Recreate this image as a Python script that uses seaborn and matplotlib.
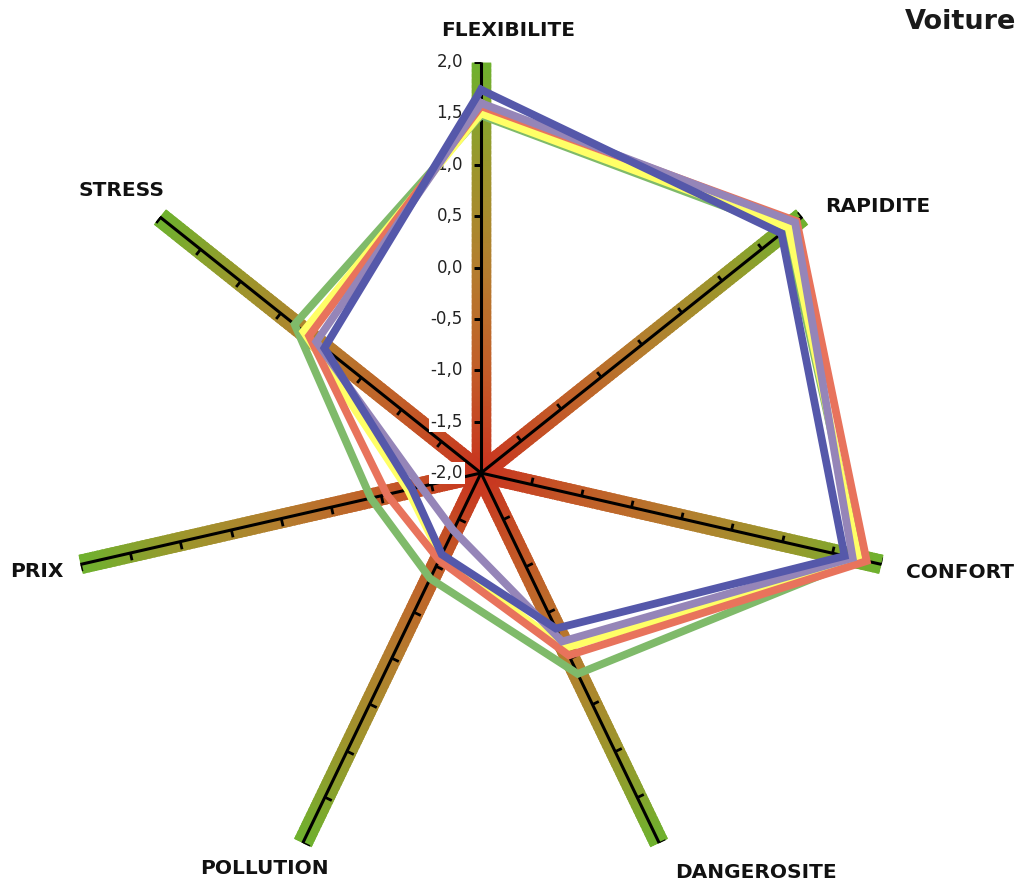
import numpy as np
import pandas as pd
import seaborn as sns
import matplotlib.pyplot as plt
from matplotlib.collections import LineCollection
from matplotlib.colors import LinearSegmentedColormap
from matplotlib.markers import MarkerStyle
from matplotlib.path import Path
from matplotlib.transforms import Affine2D

categories = ['FLEXIBILITE', 'RAPIDITE', 'CONFORT', 'DANGEROSITE', 'POLLUTION', 'PRIX', 'STRESS']
serie_vert = [1.48, 1.80, 1.78, 0.17, -0.86, -0.90, 0.32]
serie_jaune = [1.50, 1.83, 1.77, -0.11, -1.10, -1.27, 0.21]
serie_saumon = [1.57, 1.93, 1.85, -0.03, -1.06, -1.06, 0.14]
serie_violet = [1.60, 1.91, 1.71, -0.18, -1.38, -1.40, 0.05]
serie_bleu = [1.73, 1.74, 1.63, -0.32, -1.12, -1.31, -0.05]
tick_values = [-2.0, -1.5, -1.0, -0.5, 0.0, 0.5, 1.0, 1.5, 2.0]
tick_labels = ['-2,0', '-1,5', '-1,0', '-0,5', '0,0', '0,5', '1,0', '1,5', '2,0']

series = {
    'Série 1': serie_vert,
    'Série 2': serie_jaune,
    'Série 3': serie_saumon,
    'Série 4': serie_violet,
    'Série 5': serie_bleu,
}
palette = ['#7fba6a', '#ffff66', '#e8735c', '#9585b8', '#5558aa']

n = len(categories)
angles = np.arange(n) * 2 * np.pi / n

rows = []
for name, vals in series.items():
    for i in list(range(n)) + [0]:
        rows.append({'serie': name, 'theta': angles[i], 'valeur': vals[i]})
df = pd.DataFrame(rows)

W, H = 1024, 888
fig = plt.figure(figsize=(W / 100, H / 100), dpi=100)
cx, cy, R = 481, 473, 411
ax = fig.add_axes([(cx - R) / W, 1 - (cy + R) / H, 2 * R / W, 2 * R / H], projection='polar')
ax.set_theta_offset(np.pi / 2)
ax.set_theta_direction(-1)
ax.set_ylim(-2, 2)
ax.grid(False)
ax.spines['polar'].set_visible(False)
ax.set_xticks([])
ax.set_yticks([])

# spokes with red -> green gradient (overlapping pieces so no seams)
cmap = LinearSegmentedColormap.from_list(
    'spoke', ['#c9341f', '#c25d28', '#b47d2e', '#9c962c', '#6fb12e'])
steps = 80
r_edges = np.linspace(-2, 2, steps + 1)
for a in angles:
    segs = [[(a, r_edges[j]), (a, min(r_edges[j + 1] + 0.04, 2))] for j in range(steps)]
    lc = LineCollection(segs, colors=cmap(np.linspace(0, 1, steps)), linewidths=14,
                        capstyle='butt', zorder=1)
    ax.add_collection(lc)
for a in angles:
    ax.plot([a, a], [-2, 2], color='black', lw=2.2, zorder=2, solid_capstyle='butt')
    phi = 90 - np.degrees(a)
    mk = MarkerStyle(Path([(0, 0), (1, 0)]), fillstyle='none',
                     transform=Affine2D().rotate_deg(phi + 90))
    ax.plot([a] * 8, tick_values[1:], ls='none', marker=mk, markersize=10,
            markeredgecolor='black', markeredgewidth=2, zorder=2)

for v, lab in zip(tick_values, tick_labels):
    ax.annotate(lab, xy=(0, v), xytext=(-13, 0), textcoords='offset points',
                ha='right', va='center', fontsize=12, color='#222222', zorder=3,
                bbox=dict(boxstyle='square,pad=0.1', fc='white', ec='none'))

sns.lineplot(data=df, x='theta', y='valeur', hue='serie', palette=palette, sort=False,
             estimator=None, units='serie', lw=5.6, legend=False, ax=ax, zorder=4)
for line in ax.lines[-len(series):]:
    line.set_solid_joinstyle('miter')
ax.set_xlabel('')
ax.set_ylabel('')

label_pos = {
    'FLEXIBILITE': (508, 30, 'center'),
    'RAPIDITE': (825, 207, 'left'),
    'CONFORT': (906, 572, 'left'),
    'DANGEROSITE': (675, 872, 'left'),
    'POLLUTION': (200, 868, 'left'),
    'PRIX': (10, 571, 'left'),
    'STRESS': (79, 190, 'left'),
}
for cat in categories:
    x, y, ha = label_pos[cat]
    fig.text(x / W, 1 - y / H, cat, ha=ha, va='center', fontsize=14.5,
             fontweight='bold', color='#111111')
fig.text(905 / W, 1 - 22 / H, 'Voiture', ha='left', va='center', fontsize=19.5,
         fontweight='heavy', color='#1a1a1a')

fig.savefig('out.png', dpi=100)
